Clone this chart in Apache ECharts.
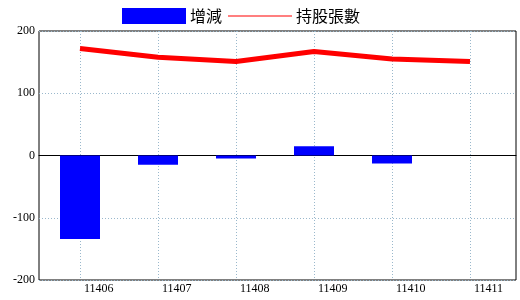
<!DOCTYPE html>
<html><head><meta charset="utf-8">
<script src="https://cdn.jsdelivr.net/npm/echarts@6/dist/echarts.min.js"></script>
<style>html,body{margin:0;padding:0;background:#fff}#c{width:520px;height:300px}</style>
</head><body><div id="c"></div>
<script>
var categories = ['11406','11407','11408','11409','11410','11411'];
var changeValues = [-134, -15, -5, 15, -13, 0];
var holdingValues = [172, 158, 151, 167, 155, 151];
var yTicks = [-200, -100, 0, 100, 200];
var seriesNames = ['增減', '持股張數'];

var chart = echarts.init(document.getElementById('c'));
var font = "'Liberation Serif', 'Noto Sans CJK TC', serif";
chart.setOption({
  animation: false,
  backgroundColor: '#fff',
  textStyle: {fontFamily: font},
  legend: {
    left: 117, top: 3,
    itemWidth: 64, itemHeight: 16, itemGap: 6,
    textStyle: {fontSize: 16, color: '#000', fontFamily: "'Noto Sans CJK TC', sans-serif", padding: [0,0,0,-1]},
    data: [
      {name: seriesNames[0], icon: 'rect', itemStyle: {color: '#0000ff'}},
      {name: seriesNames[1], icon: 'path://M0,7.5L64,7.5L64,8.5L0,8.5Z', itemStyle: {color: '#ff0000'}, lineStyle: {width: 0}}
    ]
  },
  grid: [
    {left: 39, right: 4, top: 31, bottom: 20, show: true, borderColor: '#000', borderWidth: 1, backgroundColor: 'transparent'},
    {left: 80, width: 390, top: 31, bottom: 20}
  ],
  xAxis: [
    {gridIndex: 0, type: 'value', min: 0, max: 1, show: true,
      axisLine: {show: true, onZero: true, lineStyle: {color: '#000', width: 1}},
      axisTick: {show: false}, axisLabel: {show: false}, splitLine: {show: false}},
    {gridIndex: 1, type: 'category', data: categories, boundaryGap: false,
      axisLine: {show: false}, axisTick: {show: false},
      axisLabel: {interval: 0, align: 'left', margin: 3, padding: [0,0,0,4], fontSize: 12, color: '#000', fontFamily: font},
      splitLine: {show: true, interval: 0, lineStyle: {color: '#9ab8cc', type: [1,2], width: 1}}}
  ],
  yAxis: [
    {gridIndex: 0, type: 'value', min: yTicks[0], max: yTicks[yTicks.length-1], interval: 100,
      axisLine: {show: false}, axisTick: {show: false},
      axisLabel: {margin: 4, fontSize: 12, color: '#000', fontFamily: font},
      splitLine: {show: true, lineStyle: {color: '#9ab8cc', type: [1,2], width: 1}}},
    {gridIndex: 1, type: 'value', min: yTicks[0], max: yTicks[yTicks.length-1], interval: 100, show: false,
      splitLine: {show: false}}
  ],
  series: [
    {name: seriesNames[0], type: 'bar', xAxisIndex: 1, yAxisIndex: 1, data: changeValues,
      barWidth: 40, clip: false, itemStyle: {color: '#0000ff'}},
    {name: seriesNames[1], type: 'line', xAxisIndex: 1, yAxisIndex: 1, data: holdingValues,
      symbol: 'none', showSymbol: false, clip: false, z: 5,
      lineStyle: {color: '#ff0000', width: 5}, itemStyle: {color: '#ff0000'}}
  ]
});
</script></body></html>
